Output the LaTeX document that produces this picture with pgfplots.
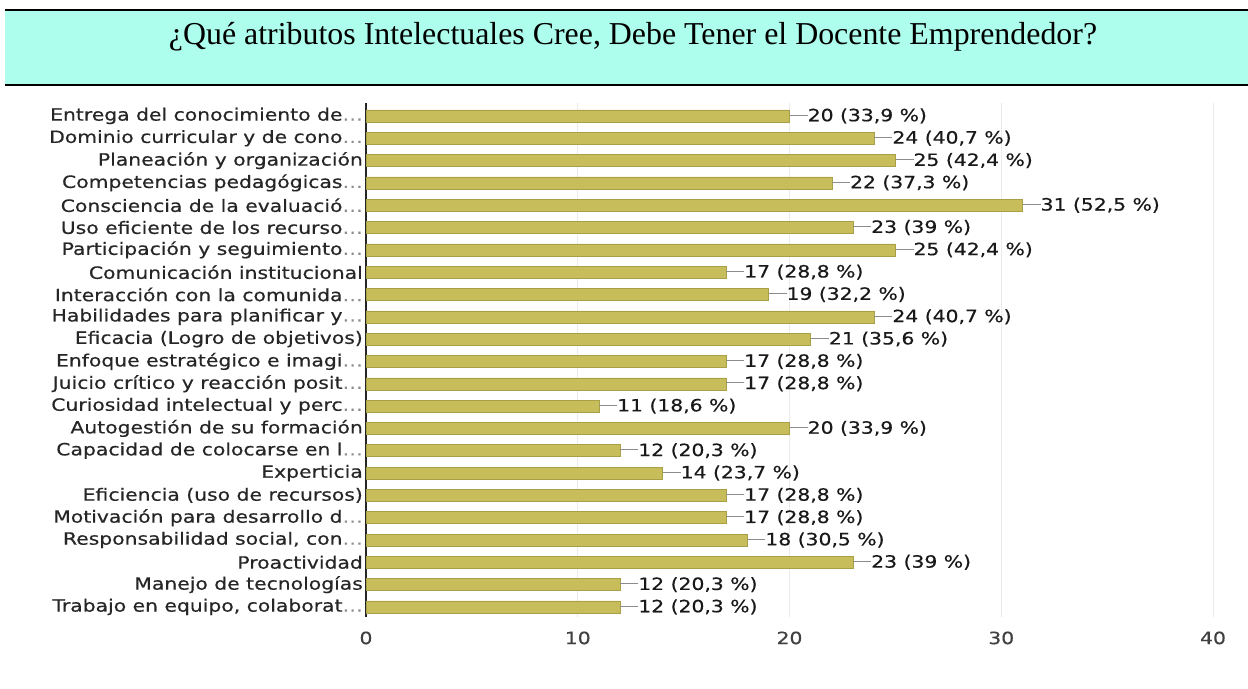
\documentclass[border=0pt]{standalone}
\usepackage{fontspec}
\setmainfont{Liberation Serif}
\newfontfamily\lab[FakeStretch=1.2,FakeBold=0.5]{DejaVu Sans}
\usepackage{pgfplots}
\pgfplotsset{compat=1.18}
\definecolor{titlebg}{RGB}{173,254,237}
\definecolor{barfill}{RGB}{199,189,90}
\definecolor{baredge}{RGB}{168,160,70}
\begin{document}
\begin{tikzpicture}
\path[use as bounding box] (0,0) rectangle (1248bp,689bp);
\fill[titlebg] (5bp,604bp) rectangle (1248bp,679bp);
\draw[black, line width=2.5bp] (5bp,679bp) -- (1248bp,679bp);
\draw[black, line width=1.5bp] (5bp,604bp) -- (1248bp,604bp);
\node[font=\fontsize{32}{34}\selectfont, anchor=center] at (633bp,652bp) {¿Qué atributos Intelectuales Cree, Debe Tener el Docente Emprendedor?};
\begin{axis}[
  at={(366bp,72bp)}, anchor=south west,
  scale only axis, width=847bp, height=514bp,
  xbar, bar width=12bp,
  xmin=0, xmax=40,
  ymin=-0.58, ymax=22.45,
  y dir=reverse,
  axis y line*=left, axis x line*=bottom,
  x axis line style={draw=none},
  y axis line style={draw=black!85, line width=2bp, -},
  xtick={0,10,20,30,40},
  ytick={0,...,22},
  major tick length=0pt,
  xmajorgrids, grid style={draw=black!8, line width=1bp},
  /pgf/number format/assume math mode=true,
  xticklabel style={font=\lab\fontsize{17}{18}\selectfont, text=black!75, yshift=-11bp},
  yticklabel style={font=\lab\fontsize{17}{18}\selectfont, text=black!85, inner xsep=0pt, xshift=-3bp},
  yticklabels={
    {Entrega del conocimiento de\textcolor{black!45}{…}},
    {Dominio curricular y de cono\textcolor{black!45}{…}},
    {Planeación y organización},
    {Competencias pedagógicas\textcolor{black!45}{…}},
    {Consciencia de la evaluació\textcolor{black!45}{…}},
    {Uso eficiente de los recurso\textcolor{black!45}{…}},
    {Participación y seguimiento\textcolor{black!45}{…}},
    {Comunicación institucional},
    {Interacción con la comunida\textcolor{black!45}{…}},
    {Habilidades para planificar y\textcolor{black!45}{…}},
    {Eficacia (Logro de objetivos)},
    {Enfoque estratégico e imagi\textcolor{black!45}{…}},
    {Juicio crítico y reacción posit\textcolor{black!45}{…}},
    {Curiosidad intelectual y perc\textcolor{black!45}{…}},
    {Autogestión de su formación},
    {Capacidad de colocarse en l\textcolor{black!45}{…}},
    {Experticia},
    {Eficiencia (uso de recursos)},
    {Motivación para desarrollo d\textcolor{black!45}{…}},
    {Responsabilidad social, con\textcolor{black!45}{…}},
    {Proactividad},
    {Manejo de tecnologías},
    {Trabajo en equipo, colaborat\textcolor{black!45}{…}}
  },
  point meta=explicit symbolic,
  nodes near coords={\textcolor{black!45}{\rule[0.33em]{18bp}{1bp}}\pgfplotspointmeta},
  nodes near coords style={anchor=west, inner xsep=0pt, font=\lab\fontsize{17}{18}\selectfont, text=black!90},
]
\addplot[fill=barfill, draw=baredge, line width=0.5bp] coordinates {
(20,0) [20 (33,9 \%)]
(24,1) [24 (40,7 \%)]
(25,2) [25 (42,4 \%)]
(22,3) [22 (37,3 \%)]
(31,4) [31 (52,5 \%)]
(23,5) [23 (39 \%)]
(25,6) [25 (42,4 \%)]
(17,7) [17 (28,8 \%)]
(19,8) [19 (32,2 \%)]
(24,9) [24 (40,7 \%)]
(21,10) [21 (35,6 \%)]
(17,11) [17 (28,8 \%)]
(17,12) [17 (28,8 \%)]
(11,13) [11 (18,6 \%)]
(20,14) [20 (33,9 \%)]
(12,15) [12 (20,3 \%)]
(14,16) [14 (23,7 \%)]
(17,17) [17 (28,8 \%)]
(17,18) [17 (28,8 \%)]
(18,19) [18 (30,5 \%)]
(23,20) [23 (39 \%)]
(12,21) [12 (20,3 \%)]
(12,22) [12 (20,3 \%)]
};
\end{axis}
\end{tikzpicture}
\end{document}
